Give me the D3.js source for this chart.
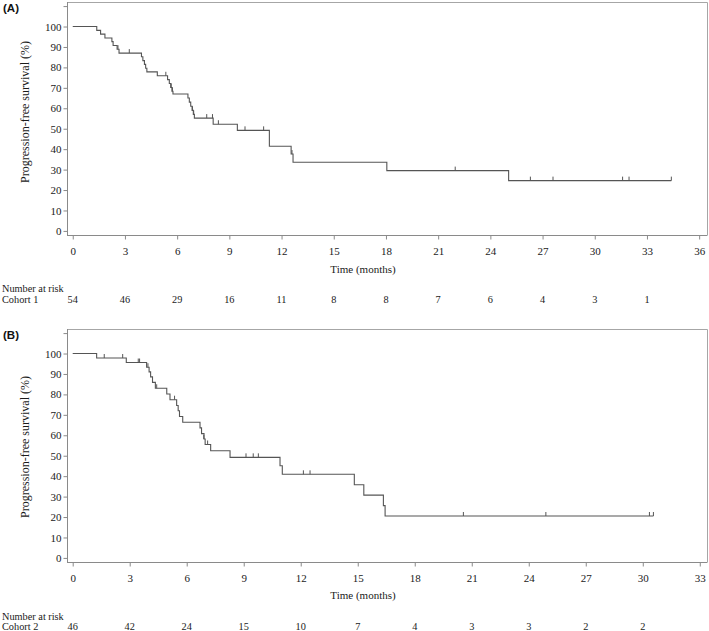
<!DOCTYPE html>
<html>
<head>
<meta charset="utf-8">
<script src="https://cdn.jsdelivr.net/npm/d3@7"></script>
<style>
  html, body { margin: 0; padding: 0; background: #fff; }
  svg { display: block; }
</style>
</head>
<body>
<script>
// ---------- DATA ----------
const survTicks = [0, 10, 20, 30, 40, 50, 60, 70, 80, 90, 100, 110];

// Panel A (Cohort 1)
const timeTicksA = [0, 3, 6, 9, 12, 15, 18, 21, 24, 27, 30, 33, 36];
const riskTimesA = [0, 3, 6, 9, 12, 15, 18, 21, 24, 27, 30, 33];
const riskA = [54, 46, 29, 16, 11, 8, 8, 7, 6, 4, 3, 1];
const stepTimesA = [0, 1.38, 1.6, 1.85, 2.25, 2.32, 2.55, 2.66, 3.95, 4.03, 4.12, 4.19, 4.26, 4.86,
  5.45, 5.55, 5.63, 5.7, 5.76, 6.62, 6.7, 6.78, 6.86, 6.93, 6.99, 8.07, 9.46, 11.3, 12.55, 12.66, 18.05, 25.05];
const stepSurvA = [100, 98.1, 96.3, 94.4, 92.6, 90.7, 88.9, 87.0, 85.2, 83.3, 81.5, 79.6, 77.8, 75.9,
  74.0, 72.1, 70.2, 68.3, 67.0, 65.0, 63.0, 61.0, 59.0, 57.0, 55.2, 52.2, 49.2, 41.4, 37.6, 33.6, 29.5, 24.6];
const endTimeA = 34.4;
const censorTimesA = [2.6, 3.25, 5.35, 5.66, 5.73, 6.88, 6.95, 7.7, 8.03, 8.37, 9.9, 10.97, 12.6, 21.98, 26.3, 27.6, 31.6, 31.97, 34.4];
const censorSurvA = [88.9, 87.0, 75.9, 70.2, 68.3, 59.0, 57.0, 55.2, 55.2, 52.2, 49.2, 49.2, 37.6, 29.5, 24.6, 24.6, 24.6, 24.6, 24.6];

// Panel B (Cohort 2)
const timeTicksB = [0, 3, 6, 9, 12, 15, 18, 21, 24, 27, 30, 33];
const riskTimesB = [0, 3, 6, 9, 12, 15, 18, 21, 24, 27, 30];
const riskB = [46, 42, 24, 15, 10, 7, 4, 3, 3, 2, 2];
const stepTimesB = [0, 1.26, 2.82, 3.89, 4.02, 4.1, 4.2, 4.35, 4.95, 5.12, 5.47, 5.55, 5.62, 5.79,
  6.7, 6.78, 6.91, 6.97, 7.26, 8.28, 10.91, 11.03, 14.82, 15.32, 16.35, 16.44];
const stepSurvB = [100, 97.8, 95.6, 93.3, 91.0, 88.6, 85.9, 83.0, 80.2, 77.4, 74.6, 72.0, 69.2, 66.4,
  63.6, 60.8, 58.2, 55.5, 52.4, 49.2, 45.1, 40.9, 35.8, 30.7, 25.6, 20.5];
const endTimeB = 30.56;
const censorTimesB = [1.66, 2.63, 3.45, 3.52, 3.96, 4.42, 5.36, 6.9, 7.1, 9.12, 9.5, 9.77, 12.14, 12.49, 20.56, 24.9, 30.35, 30.56];
const censorSurvB = [97.8, 97.8, 95.6, 95.6, 93.3, 83.0, 77.4, 58.2, 55.5, 49.2, 49.2, 49.2, 40.9, 40.9, 20.5, 20.5, 20.5, 20.5];

// ---------- DRAW ----------
const W = 709, H = 631;
const svg = d3.select("body").append("svg").attr("width", W).attr("height", H);

const serif = "'Liberation Serif', 'Times New Roman', serif";
const sans = "'Liberation Sans', Arial, sans-serif";
const axisColor = "#8a8a8a";
const frameColor = "#a6a6a6";
const curveColor = "#555";
const textColor = "#1a1a1a";

function drawPanel(cfg) {
  const g = svg.append("g");
  const x = d3.scaleLinear().domain(cfg.xDomain).range([cfg.left, cfg.right]);
  const y = d3.scaleLinear().domain([-2, 112]).range([cfg.bottom, cfg.top]);

  // frame (top & right)
  g.append("path")
    .attr("d", `M${cfg.left},${cfg.top + 0.5}H${cfg.right + 0.5}V${cfg.bottom}`)
    .attr("fill", "none").attr("stroke", frameColor).attr("stroke-width", 1);

  // y axis
  const yAxis = d3.axisLeft(y).tickValues(survTicks).tickSize(4).tickPadding(2)
    .tickFormat(d => d <= 100 ? String(d) : "");
  const ya = g.append("g").attr("transform", `translate(${cfg.left + 0.5},0)`).call(yAxis);
  ya.select(".domain").attr("stroke", axisColor).attr("d", `M-0,${cfg.top}V${cfg.bottom}`);
  ya.selectAll(".tick line").attr("stroke", axisColor);
  ya.selectAll(".tick text").attr("fill", textColor).style("font-family", serif).style("font-size", "11px");

  // x axis
  const xAxis = d3.axisBottom(x).tickValues(cfg.timeTicks).tickSize(4).tickPadding(8);
  const xa = g.append("g").attr("transform", `translate(0,${cfg.bottom + 0.5})`).call(xAxis);
  xa.select(".domain").attr("stroke", axisColor).attr("d", `M${cfg.left},0H${cfg.right + 0.5}`);
  xa.selectAll(".tick line").attr("stroke", axisColor);
  xa.selectAll(".tick text").attr("fill", textColor).style("font-family", serif).style("font-size", "11px");

  // KM step curve
  const pts = cfg.stepTimes.map((t, i) => [t, cfg.stepSurv[i]]);
  pts.push([cfg.endTime, cfg.stepSurv[cfg.stepSurv.length - 1]]);
  const line = d3.line().x(d => x(d[0])).y(d => y(d[1])).curve(d3.curveStepAfter);
  g.append("path").attr("d", line(pts))
    .attr("fill", "none").attr("stroke", curveColor).attr("stroke-width", 1.1);

  // censor marks
  g.selectAll(null).data(cfg.censorTimes.map((t, i) => [t, cfg.censorSurv[i]]))
    .enter().append("line")
    .attr("x1", d => x(d[0])).attr("x2", d => x(d[0]))
    .attr("y1", d => y(d[1])).attr("y2", d => y(d[1]) - 4)
    .attr("stroke", curveColor).attr("stroke-width", 1);

  // panel letter
  g.append("text").attr("x", 3).attr("y", cfg.top + 10).text(cfg.letter)
    .style("font-family", sans).style("font-weight", "bold").style("font-size", "11.5px").attr("fill", "#111");

  // y label
  g.append("text")
    .attr("transform", `translate(${29},${cfg.yLabelCenter}) rotate(-90)`)
    .attr("text-anchor", "middle")
    .text("Progression-free survival (%)")
    .style("font-family", serif).style("font-size", "12px").attr("fill", textColor);

  // x label
  g.append("text").attr("x", 363).attr("y", cfg.xLabelY).attr("text-anchor", "middle")
    .attr("dominant-baseline", "central")
    .text("Time (months)").style("font-family", serif).style("font-size", "11px").attr("fill", textColor);

  // risk table
  g.append("text").attr("x", 2).attr("y", cfg.riskHeadY).attr("dominant-baseline", "central")
    .text("Number at risk").style("font-family", serif).style("font-size", "10.3px").attr("fill", textColor);
  g.append("text").attr("x", 2).attr("y", cfg.riskRowY).attr("dominant-baseline", "central")
    .text(cfg.cohort).style("font-family", serif).style("font-size", "10.3px").attr("fill", textColor);
  g.selectAll(null).data(cfg.riskTimes.map((t, i) => [t, cfg.risk[i]]))
    .enter().append("text")
    .attr("x", d => x(d[0])).attr("y", cfg.riskRowY)
    .attr("text-anchor", "middle").attr("dominant-baseline", "central")
    .text(d => d[1]).style("font-family", serif).style("font-size", "10.3px").attr("fill", textColor);
}

drawPanel({
  letter: "(A)", cohort: "Cohort 1",
  left: 67, right: 707, top: 2, bottom: 235,
  xDomain: [-0.33, 36.45], timeTicks: timeTicksA,
  stepTimes: stepTimesA, stepSurv: stepSurvA, endTime: endTimeA,
  censorTimes: censorTimesA, censorSurv: censorSurvA,
  riskTimes: riskTimesA, risk: riskA,
  yLabelCenter: 112, xLabelY: 269, riskHeadY: 288, riskRowY: 299
});

drawPanel({
  letter: "(B)", cohort: "Cohort 2",
  left: 67, right: 707, top: 329, bottom: 562,
  xDomain: [-0.3, 33.38], timeTicks: timeTicksB,
  stepTimes: stepTimesB, stepSurv: stepSurvB, endTime: endTimeB,
  censorTimes: censorTimesB, censorSurv: censorSurvB,
  riskTimes: riskTimesB, risk: riskB,
  yLabelCenter: 447, xLabelY: 595, riskHeadY: 616, riskRowY: 626
});
</script>
</body>
</html>
